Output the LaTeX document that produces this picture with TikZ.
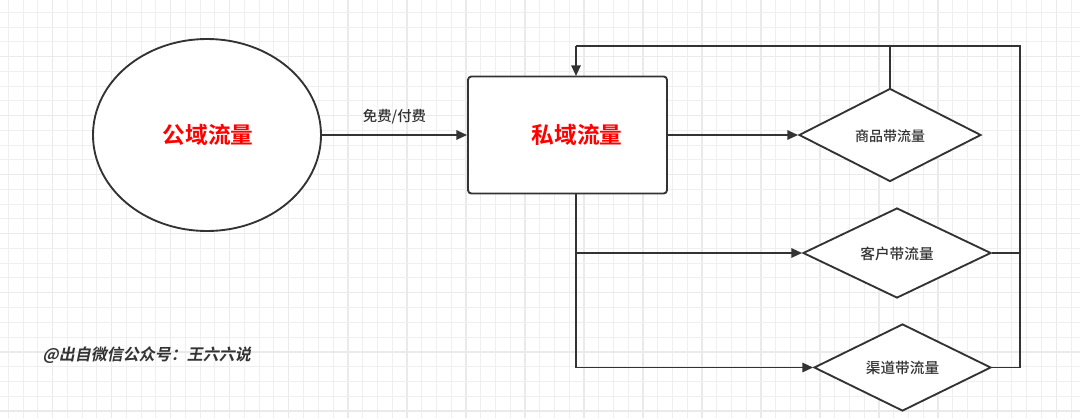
\documentclass[tikz,border=0pt]{standalone}
\usepackage{fontspec}
\usetikzlibrary{shapes.geometric,arrows.meta}
\setmainfont{Noto Sans CJK SC}[BoldFont={Noto Sans CJK SC Bold}]
\newfontfamily\wmfont{Noto Sans CJK SC Bold}[FakeSlant=0.2]
\newfontfamily\medfont{Noto Sans CJK SC Medium}
\definecolor{ln}{HTML}{333333}
\definecolor{gridminor}{HTML}{EFEFEF}
\definecolor{gridmajor}{HTML}{EAEAEA}
\tikzset{
  conn/.style={draw=ln, line width=1.4pt},
  arr/.style={conn, -{Triangle[length=8pt,width=7pt]}},
  shapebox/.style={draw=ln, line width=1.4pt, fill=white, inner sep=0pt},
  dia/.style={shapebox, diamond, shape aspect=2},
  bigred/.style={text=red, font=\fontsize{17pt}{19pt}\selectfont\bfseries},
  dtext/.style={text=ln, font=\fontsize{11pt}{13pt}\medfont}
}
\begin{document}
\begin{tikzpicture}[x=0.75pt,y=-0.75pt]
\useasboundingbox (0,0) rectangle (1080,418);
\fill[white] (0,0) rectangle (1080,418);
% grid
\foreach \k in {0,...,73}{
  \pgfmathsetmacro{\xx}{8.3+\k*14.76}
  \pgfmathtruncatemacro{\m}{mod(\k,4)}
  \ifnum\m=3
    \draw[gridmajor, line width=1.1pt] (\xx,0) -- (\xx,418);
  \else
    \draw[gridminor, line width=0.75pt] (\xx,0) -- (\xx,418);
  \fi
}
\foreach \k in {0,...,28}{
  \pgfmathsetmacro{\yy}{12.3+\k*14.76}
  \pgfmathtruncatemacro{\m}{mod(\k,4)}
  \ifnum\m=3
    \draw[gridmajor, line width=1.1pt] (0,\yy) -- (1080,\yy);
  \else
    \draw[gridminor, line width=0.75pt] (0,\yy) -- (1080,\yy);
  \fi
}
% nodes
\node[shapebox, ellipse, minimum width=171pt, minimum height=144pt] (pub) at (207,135) {};
\node[bigred] (pubt) at (208,135) {公域流量};
\node[shapebox, rectangle, rounded corners=2.5pt, minimum width=149.25pt, minimum height=87.75pt] (pri) at (567.5,135) {};
\node[bigred] (prit) at (577,135) {私域流量};
\node[dia, minimum width=136.5pt, minimum height=69.75pt] (d1) at (890,135) {};
\node[dtext, font=\fontsize{10.5pt}{12pt}\medfont] (d1t) at (890,136) {商品带流量};
\node[dia, minimum width=141pt, minimum height=67.5pt] (d2) at (897,253) {};
\node[dtext] (d2t) at (897,254) {客户带流量};
\node[dia, minimum width=132.75pt, minimum height=65.25pt] (d3) at (902.5,367.5) {};
\node[dtext] (d3t) at (902.5,368) {渠道带流量};
\node[text=ln, font=\fontsize{12pt}{14pt}\wmfont, anchor=west] (wm) at (38,355) {@出自微信公众号：王六六说};
% coordinates
\coordinate (tl) at (576,46);
\coordinate (tr) at (1020,46);
\coordinate (br) at (1020,367.5);
\coordinate (bb) at (576,193);
\coordinate (bl) at (576,367.5);
\coordinate (pt) at (576,76);
% connectors
\draw[arr] (pub.east) -- node[above=4pt, text=ln, font=\fontsize{10.8pt}{12pt}\medfont] (lbl) {免费/付费} (pri.west);
\draw[arr] (pri.east) -- (d1.west);
\draw[conn] (d1.north) -- (d1.north |- tl);
\draw[conn] (br) -- (tr) -- (tl);
\draw[arr] (tl) -- (pt);
\draw[conn] (bb) -- (bl);
\draw[arr] (bb |- d2.west) -- (d2.west);
\draw[arr] (bl) -- (d3.west);
\draw[conn] (d2.east) -- (d2.east -| tr);
\draw[conn] (d3.east) -- (br);
\end{tikzpicture}
\end{document}
